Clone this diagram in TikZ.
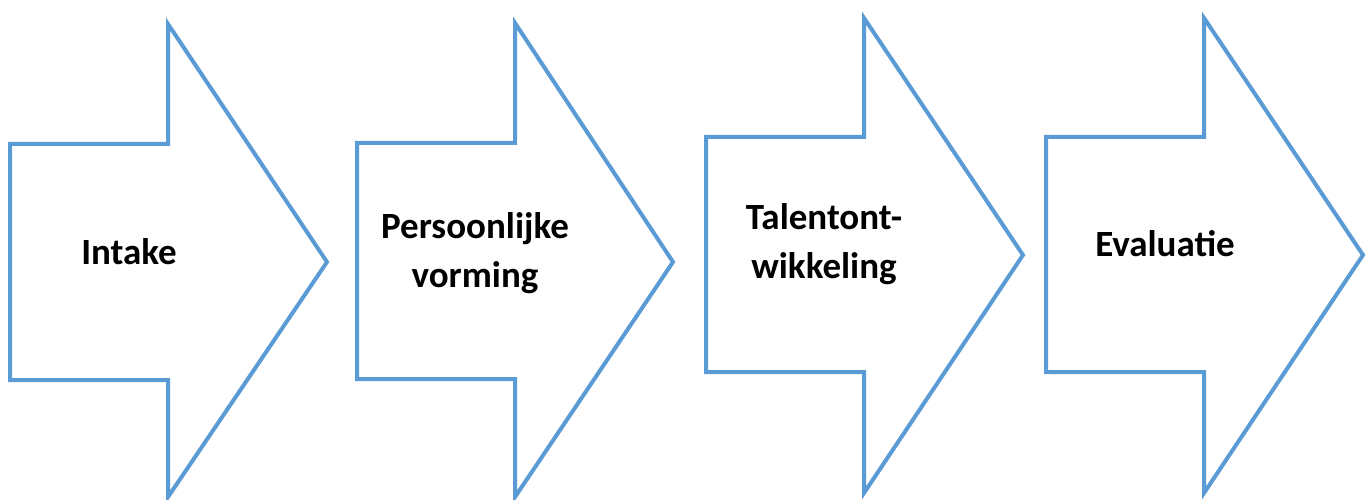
\documentclass[tikz,border=0pt]{standalone}
\usepackage{fontspec}
\setmainfont{Carlito}
\definecolor{arrowblue}{HTML}{5B9BD5}
\tikzset{
  chevron/.style={draw=arrowblue, line width=4pt, line join=miter, fill=white},
  lbl/.style={font=\bfseries\fontsize{37}{49}\selectfont, align=center, inner sep=0pt, anchor=base}
}
\begin{document}
\begin{tikzpicture}[x=1pt,y=-1pt]
\useasboundingbox (0,0) rectangle (1368,500);
% arrow 1
\draw[chevron] (10,144) -- (168,144) -- (168,24) -- (327,262) -- (168,497) -- (168,380) -- (10,380) -- cycle;
% arrow 2
\draw[chevron] (357,143) -- (515,143) -- (515,23) -- (673,262) -- (515,497) -- (515,379) -- (357,379) -- cycle;
% arrow 3
\draw[chevron] (706,137) -- (864,137) -- (864,18) -- (1023,255) -- (864,493) -- (864,372) -- (706,372) -- cycle;
% arrow 4
\draw[chevron] (1046,137) -- (1204,137) -- (1204,18) -- (1363,255) -- (1204,493) -- (1204,372) -- (1046,372) -- cycle;
\node[lbl] (t1) at (129,264) {Intake};
\node[lbl] (t2) at (475,287) {Persoonlijke\\vorming};
\node[lbl] (t3) at (824,278) {Talentont-\\wikkeling};
\node[lbl] (t4) at (1165,256) {Evaluatie};
\end{tikzpicture}
\end{document}
